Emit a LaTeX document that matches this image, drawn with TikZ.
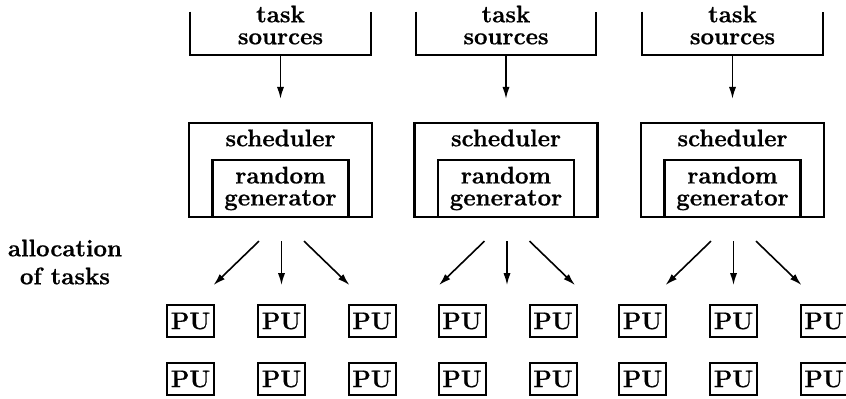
\documentclass[tikz,border=0pt]{standalone}
\usepackage{fontspec}
\setmainfont{Latin Modern Roman}[BoldFeatures={FakeBold=0.8}]
\usepackage{tikz}
\usetikzlibrary{arrows.meta,calc,positioning}

\begin{document}
\begin{tikzpicture}[x=0.5pt,y=-0.5pt,>={Latex[length=6pt,width=3.6pt]},
  every node/.style={font=\fontsize{12}{11}\selectfont\bfseries},
  srcbox/.style={minimum width=90pt,minimum height=21.5pt,inner sep=0},
  schbox/.style={draw,line width=1.1pt,minimum width=91.5pt,minimum height=47pt,inner sep=0},
  genbox/.style={draw,line width=1.1pt,minimum width=68pt,minimum height=28.5pt,inner sep=0,align=center},
  pubox/.style={draw,line width=1pt,minimum width=23.5pt,minimum height=16pt,inner sep=0},
  alloc/.style={->,line width=0.8pt}]
  \useasboundingbox (0,0) rectangle (846,398);

  % three scheduling branches
  \foreach \i/\x in {1/280.5,2/506,3/732.5} {
    \node[srcbox] (src\i) at (\x,33.5) {};
    \draw[line width=1pt] (src\i.north west) -- (src\i.south west)
      -- (src\i.south east) -- (src\i.north east);
    \node[align=center] (srct\i) at (\x,25) {task\\sources};
    \node[schbox] (sch\i) at (\x,170) {};
    \node[anchor=north,yshift=-0.3pt] (scht\i) at (sch\i.north) {scheduler};
    \node[genbox,anchor=south] (gen\i) at (sch\i.south) {random\\generator};
    \draw[->,line width=0.8pt,shorten >=11.5pt] (src\i) -- (sch\i);
    % task allocation arrows
    \foreach \d/\n in {-1/l,0/m,1/r} {
      \coordinate (\n a\i) at ($(sch\i.south)+(\d*22.5+1,23)$);
      \coordinate (\n b\i) at ($(sch\i.south)+(\d*68+1,67)$);
      \draw[alloc] (\n a\i) -- (\n b\i);
    }
  }

  \node[align=center] (alloc) at (65,262) {allocation\\[3pt]of tasks};

  % processing units
  \foreach \x [count=\k] in {190.5,281.5,372,462,553,642.5,733.5,824} {
    \node[pubox] (pu\k a) at (\x,321) {PU};
    \node[pubox] (pu\k b) at (\x,379) {PU};
  }
\end{tikzpicture}
\end{document}
